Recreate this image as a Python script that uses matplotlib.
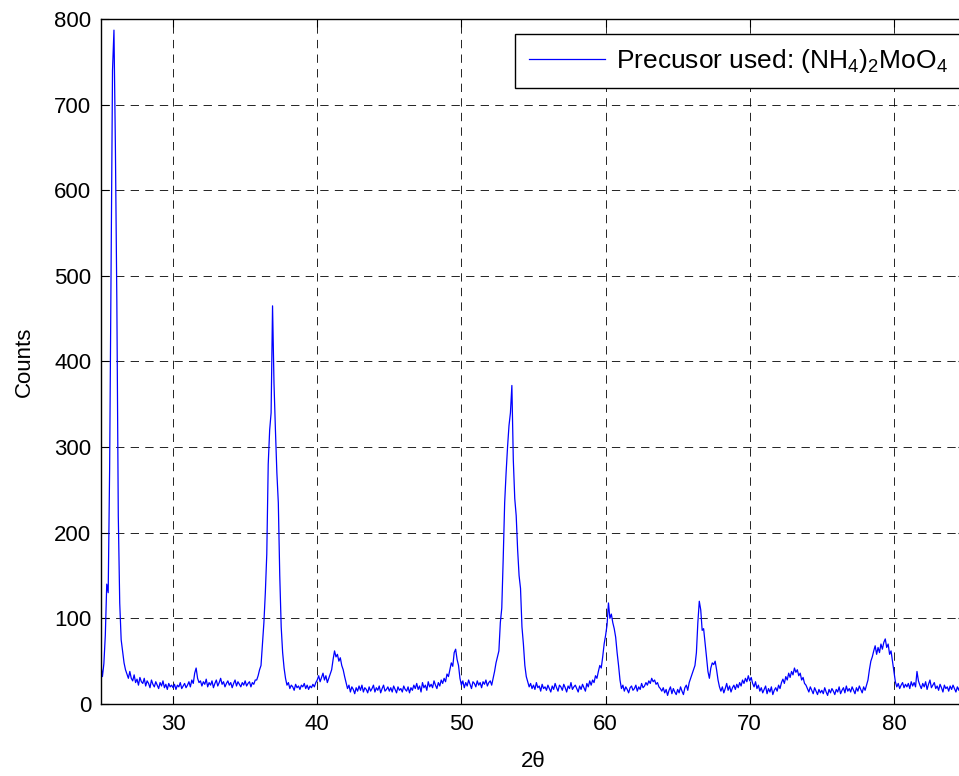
import numpy as np
import matplotlib.pyplot as plt

plt.rcParams['font.family'] = ['Liberation Sans', 'DejaVu Sans']
plt.rcParams['mathtext.default'] = 'regular'
plt.rcParams['lines.scale_dashes'] = False

# 2-theta grid, 0.1 degree step from 25 to 85
two_theta = np.round(np.linspace(25, 85, 601), 1)

# counts, one row per degree
counts = [
    45, 32, 47, 80, 140, 130, 275, 500, 740, 787,      # 25
    650, 470, 220, 118, 75, 62, 48, 40, 35, 30,        # 26
    38, 30, 27, 34, 25, 29, 22, 31, 26, 24,            # 27
    30, 21, 27, 24, 19, 28, 23, 20, 26, 22,            # 28
    18, 25, 21, 27, 19, 23, 17, 24, 20, 22,            # 29
    19, 23, 17, 22, 20, 25, 18, 21, 24, 19,            # 30
    22, 26, 20, 28, 24, 36, 42, 30, 25, 27,            # 31
    21, 26, 23, 29, 20, 25, 22, 27, 19, 24,            # 32
    28, 21, 25, 30, 23, 26, 20, 24, 27, 22,            # 33
    25, 19, 24, 28, 21, 26, 23, 20, 25, 22,            # 34
    27, 21, 24, 26, 20, 25, 23, 28, 28, 33,            # 35
    40, 45, 70, 95, 130, 175, 280, 320, 340, 465,      # 36
    375, 320, 270, 235, 150, 90, 60, 42, 30, 22,       # 37
    25, 18, 22, 20, 16, 23, 19, 21, 17, 22,            # 38
    20, 24, 18, 22, 17, 21, 19, 23, 20, 25,            # 39
    28, 33, 26, 31, 36, 28, 33, 25, 30, 35,            # 40
    40, 52, 62, 55, 58, 50, 54, 45, 40, 32,            # 41
    25, 18, 22, 14, 20, 17, 12, 19, 15, 21,            # 42
    16, 22, 14, 19, 17, 13, 20, 15, 18, 22,            # 43
    14, 19, 16, 21, 13, 18, 22, 15, 17, 20,            # 44
    15, 19, 14, 21, 17, 13, 20, 16, 18, 14,            # 45
    21, 17, 15, 20, 13, 19, 16, 22, 18, 24,            # 46
    17, 21, 14, 25, 19, 22, 16, 26, 20, 23,            # 47
    19, 27, 22, 18, 25, 21, 28, 24, 30, 26,            # 48
    35, 32, 40, 48, 44, 60, 64, 52, 45, 30,            # 49
    22, 27, 19, 25, 21, 28, 23, 18, 26, 24,            # 50
    20, 27, 22, 25, 19, 26, 23, 28, 21, 25,            # 51
    27, 22, 30, 38, 48, 55, 62, 95, 112, 170,          # 52
    235, 270, 300, 325, 340, 372, 285, 240, 220, 180,  # 53
    150, 135, 90, 70, 45, 32, 26, 20, 24, 18,          # 54
    22, 17, 25, 19, 21, 15, 23, 18, 20, 16,            # 55
    22, 18, 14, 21, 17, 24, 19, 15, 22, 20,            # 56
    16, 23, 19, 14, 21, 18, 25, 17, 20, 22,            # 57
    18, 14, 21, 17, 23, 19, 15, 24, 20, 27,            # 58
    22, 28, 25, 33, 30, 38, 45, 42, 55, 70,            # 59
    80, 92, 118, 100, 105, 95, 88, 78, 60, 45,         # 60
    28, 18, 22, 15, 20, 17, 13, 19, 21, 16,            # 61
    18, 22, 15, 20, 17, 24, 19, 21, 25, 22,            # 62
    27, 24, 30, 26, 28, 23, 25, 20, 18, 15,            # 63
    19, 13, 17, 10, 16, 20, 12, 18, 14, 11,            # 64
    17, 13, 20, 15, 11, 19, 22, 16, 25, 30,            # 65
    35, 40, 45, 60, 95, 120, 110, 86, 88, 72,          # 66
    55, 38, 30, 42, 48, 46, 50, 40, 28, 20,            # 67
    15, 20, 13, 18, 24, 16, 21, 14, 19, 22,            # 68
    17, 23, 19, 25, 21, 28, 24, 30, 26, 33,            # 69
    27, 31, 24, 20, 26, 18, 22, 15, 19, 13,            # 70
    17, 21, 12, 18, 14, 20, 11, 16, 19, 15,            # 71
    22, 18, 25, 29, 24, 32, 28, 36, 31, 38,            # 72
    34, 42, 37, 40, 33, 36, 28, 31, 24, 22,            # 73
    18, 14, 20, 16, 12, 19, 15, 11, 17, 13,            # 74
    16, 12, 19, 14, 10, 17, 13, 18, 15, 11,            # 75
    17, 14, 20, 12, 16, 19, 13, 21, 15, 18,            # 76
    14, 20, 16, 12, 19, 15, 21, 17, 13, 20,            # 77
    16, 22, 28, 40, 50, 55, 62, 68, 58, 66,            # 78
    60, 70, 64, 72, 76, 66, 70, 58, 62, 50,            # 79
    38, 26, 20, 24, 18, 22, 25, 19, 23, 20,            # 80
    24, 18, 26, 21, 25, 20, 38, 27, 22, 18,            # 81
    24, 20, 26, 17, 23, 28, 19, 22, 25, 18,            # 82
    21, 16, 23, 19, 14, 22, 18, 20, 15, 21,            # 83
    17, 22, 18, 14, 20, 16, 23, 19, 15, 21,            # 84
    24,                                                # 85
]

xticks = [30, 40, 50, 60, 70, 80]
yticks = [0, 100, 200, 300, 400, 500, 600, 700, 800]
legend_label = 'Precusor used: (NH$_4$)$_2$MoO$_4$'

fig = plt.figure(figsize=(9.59, 7.76), dpi=100)
ax = fig.add_axes([0.1053, 0.0928, 0.902, 0.8827])

ax.plot(two_theta, counts, color='blue', linewidth=0.9, label=legend_label)

ax.set_xlim(25, 85)
ax.set_ylim(0, 800)
ax.set_xticks(xticks)
ax.set_yticks(yticks)
ax.tick_params(direction='in', length=6, width=0.8, labelsize=16,
               top=True, right=True, pad=7)
ax.grid(True, color='black', linestyle=(0, (6, 4.5)), linewidth=0.6)
for s in ax.spines.values():
    s.set_linewidth(1.0)

ax.set_xlabel('2θ', fontsize=16, labelpad=12)
ax.set_ylabel('Counts', fontsize=16, labelpad=14)

leg = ax.legend(loc='upper right', bbox_to_anchor=(0.994, 0.978), fontsize=19,
                fancybox=False, framealpha=1, edgecolor='black',
                handlelength=2.9, handletextpad=0.4, borderpad=0.5,
                borderaxespad=0)
leg.get_frame().set_linewidth(1.0)

fig.savefig('out.png', dpi=100)
